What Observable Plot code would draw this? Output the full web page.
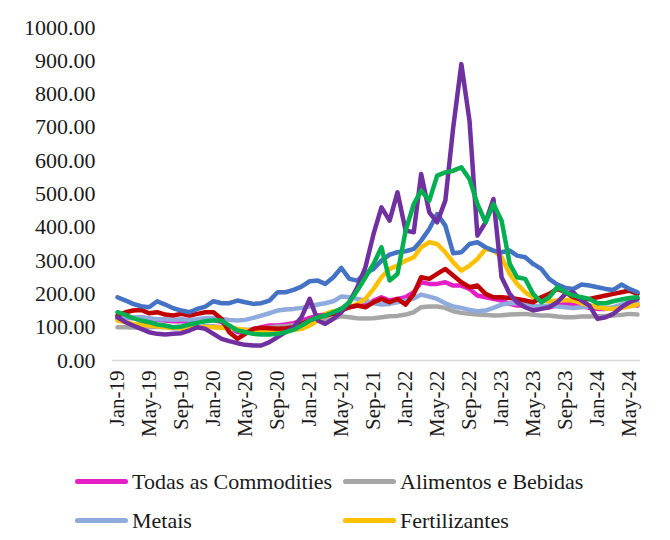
<!DOCTYPE html>
<html><head><meta charset="utf-8">
<script src="https://cdn.jsdelivr.net/npm/d3@7"></script>
<script src="https://cdn.jsdelivr.net/npm/@observablehq/plot@0.6"></script>
<style>
body{margin:0;background:#fff;font-family:"Liberation Serif","Times New Roman",serif;}
#legend{display:grid;grid-template-columns:268px auto;grid-auto-rows:39px;padding:2px 0 0 75px;}
.item{display:flex;align-items:center;font-size:22px;color:#1a1a1a;white-space:nowrap;font-family:"Liberation Serif","Times New Roman",serif;}
.sw{width:53px;height:5px;border-radius:3px;margin-right:4px;}
</style></head><body><div id="chart"></div><div id="legend"></div>
<script>
const firstMonth = "Jan-19", lastMonth = "Jun-24";
const tickLabels = ["Jan-19","May-19","Sep-19","Jan-20","May-20","Sep-20","Jan-21","May-21","Sep-21","Jan-22","May-22","Sep-22","Jan-23","May-23","Sep-23","Jan-24","May-24"];
const yTicks = [0,100,200,300,400,500,600,700,800,900,1000];

const seriesNames = ["Todas as Commodities","Alimentos e Bebidas","Metais","Fertilizantes","Energia","Petróleo","Gás Natural","Carvão"];
const legendNames = ["Todas as Commodities","Alimentos e Bebidas","Metais","Fertilizantes"];
const colors = ["#e51ec6","#a6a6a6","#8faadc","#ffc000","#c00000","#4472c4","#7030a0","#00b050"];

const todas = [125,128,128,130,125,122,120,118,118,118,120,122,
  122,115,100,85,85,95,100,105,105,108,112,120,
  128,135,138,145,155,160,165,165,180,190,180,185,
  190,205,235,230,230,235,225,225,215,195,190,185,
  180,170,165,165,160,158,160,165,170,168,163,158,
  155,155,158,165,168,165];
const alimentos = [100,100,99,98,100,101,100,97,97,98,100,103,
  103,100,97,93,92,93,96,99,102,103,106,110,
  117,120,122,126,133,130,127,126,127,130,133,134,
  138,145,160,162,162,158,148,143,140,138,137,135,
  136,138,139,140,137,135,135,132,130,130,132,132,
  133,134,135,137,140,138];
const metais = [125,128,130,130,127,124,124,122,124,122,124,127,
  128,125,122,120,122,128,135,142,150,153,155,158,
  162,168,172,178,192,190,185,180,172,168,170,175,
  180,186,198,192,185,172,162,158,152,148,150,158,
  168,172,172,170,165,163,165,162,160,158,160,162,
  160,157,160,168,176,175];
const fertilizantes = [120,115,110,108,105,103,100,98,97,97,98,100,
  100,98,97,95,92,88,85,85,87,90,92,95,
  105,120,140,148,150,160,170,185,215,250,275,285,
  300,310,340,355,350,325,295,270,285,305,335,330,
  310,260,230,205,190,182,178,180,182,180,172,166,
  160,156,155,158,162,168];
const energia = [135,145,150,152,142,145,138,135,140,135,140,145,
  145,125,85,65,80,95,98,97,95,97,100,110,
  120,130,135,140,150,160,165,160,175,185,175,185,
  168,200,250,245,260,275,255,235,220,225,200,190,
  190,188,185,180,175,190,200,215,205,190,182,185,
  190,195,200,205,210,200];
const petroleo = [190,180,170,163,160,178,168,157,150,145,155,162,
  178,172,172,180,175,170,172,180,205,205,212,222,
  238,240,230,250,278,245,240,262,275,300,318,325,
  328,335,360,395,440,405,322,325,350,355,340,330,
  325,330,315,310,290,275,245,228,218,215,228,225,
  220,215,212,228,215,205];
const gas = [130,115,105,95,85,80,78,80,82,90,100,95,
  80,65,58,52,47,45,45,55,70,85,100,130,
  185,120,110,125,145,175,220,280,380,460,420,505,
  390,385,560,445,415,480,700,890,720,375,415,485,
  250,200,175,160,150,155,160,175,200,205,180,165,
  125,130,140,160,175,185];
const carvao = [145,137,127,120,115,108,105,100,102,108,113,118,
  120,120,105,90,85,80,78,78,80,85,92,105,
  120,130,135,145,155,175,210,250,290,340,240,260,
  390,470,510,480,555,565,570,580,545,470,415,470,
  420,290,250,245,200,175,190,220,205,195,190,185,
  172,172,178,183,188,190];

const seriesValues = [todas, alimentos, metais, fertilizantes, energia, petroleo, gas, carvao];

const parse = d3.utcParse("%b-%y");
const dates = d3.utcMonth.range(parse(firstMonth), d3.utcMonth.offset(parse(lastMonth), 1));
const rows = [];
seriesNames.forEach((name, k) => seriesValues[k].forEach((v, i) => rows.push({series: name, date: dates[i], value: v})));

const chart = Plot.plot({
  width: 670, height: 460,
  marginLeft: 112, marginRight: 30, marginTop: 27, marginBottom: 100,
  style: {fontFamily: "Liberation Serif, Times New Roman, serif", color: "#1a1a1a", background: "#fff"},
  x: {type: "utc", domain: [dates[0], dates[dates.length - 1]], insetLeft: 5, insetRight: 3},
  y: {domain: [0, 1000]},
  color: {domain: seriesNames, range: colors},
  marks: [
    Plot.ruleY([0], {stroke: "#d9d9d9", strokeWidth: 1.5}),
    Plot.axisY({ticks: yTicks, tickSize: 0, tickPadding: 17, tickFormat: d => d.toFixed(2), fontSize: 22, label: null}),
    Plot.axisX({ticks: tickLabels.map(parse), tickSize: 0, tickPadding: 10, tickRotate: -90, tickFormat: d3.utcFormat("%b-%y"), fontSize: 21, label: null}),
    Plot.line(rows, {x: "date", y: "value", z: "series", stroke: "series", strokeWidth: 4.5, strokeLinejoin: "round", strokeLinecap: "round"})
  ]
});
document.getElementById("chart").appendChild(chart);

const legend = document.getElementById("legend");
legendNames.forEach(name => {
  const it = document.createElement("div");
  it.className = "item";
  const sw = document.createElement("span");
  sw.className = "sw";
  sw.style.background = colors[seriesNames.indexOf(name)];
  it.appendChild(sw);
  it.appendChild(document.createTextNode(name));
  legend.appendChild(it);
});
</script></body></html>
